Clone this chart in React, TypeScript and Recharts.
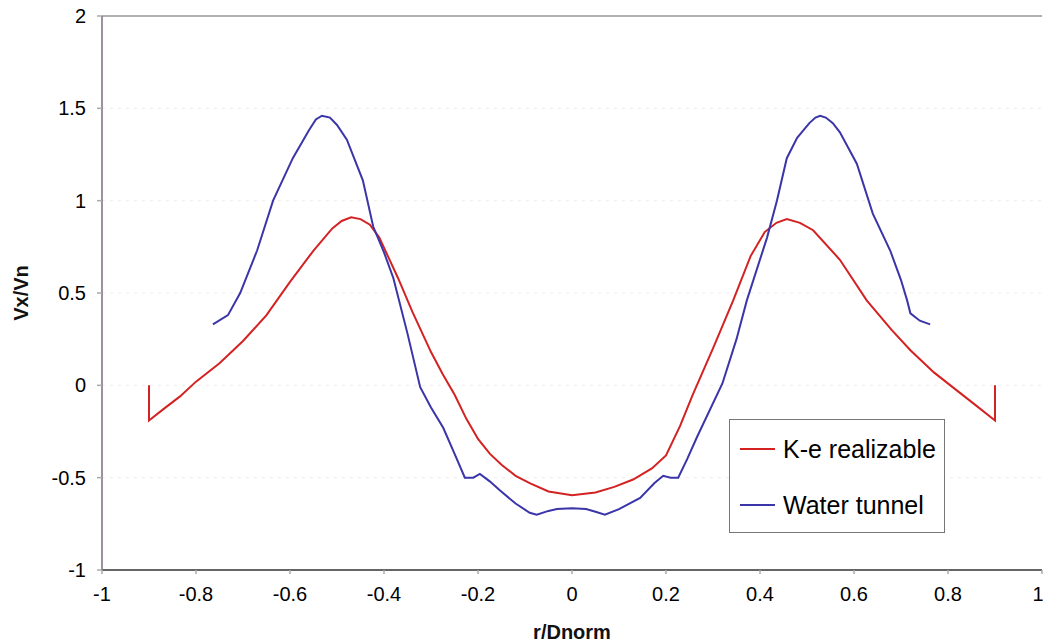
import { CartesianGrid, Line, LineChart, ReferenceLine, XAxis, YAxis } from "recharts";

const xTicks = [-1, -0.8, -0.6, -0.4, -0.2, 0, 0.2, 0.4, 0.6, 0.8, 1];
const yTicks = [-1, -0.5, 0, 0.5, 1, 1.5, 2];

// K-e realizable (CFD)
const keX = [
  -0.9, -0.9, -0.87, -0.834, -0.8, -0.75, -0.7, -0.65, -0.6, -0.55, -0.51, -0.49, -0.47, -0.45, -0.43, -0.41,
  -0.39, -0.37, -0.34, -0.3, -0.275, -0.25, -0.225, -0.2, -0.175, -0.15, -0.12, -0.09, -0.05, 0, 0.05, 0.09,
  0.13, 0.17, 0.2, 0.23, 0.257, 0.3, 0.343, 0.38, 0.41, 0.435, 0.457, 0.485, 0.513, 0.57, 0.627, 0.68, 0.72,
  0.77, 0.82, 0.86, 0.9, 0.9,
];
const keY = [
  0, -0.19, -0.13, -0.06, 0.02, 0.12, 0.24, 0.38, 0.56, 0.73, 0.85, 0.89, 0.91, 0.9, 0.87, 0.8,
  0.69, 0.58, 0.4, 0.18, 0.06, -0.05, -0.18, -0.29, -0.37, -0.43, -0.49, -0.53, -0.575, -0.595, -0.58, -0.55,
  -0.51, -0.45, -0.38, -0.22, -0.05, 0.2, 0.46, 0.7, 0.83, 0.88, 0.9, 0.88, 0.84, 0.68, 0.46, 0.3, 0.19,
  0.07, -0.03, -0.11, -0.19, 0,
];

// Water tunnel (measured)
const wtX = [
  -0.764, -0.732, -0.706, -0.67, -0.636, -0.594, -0.56, -0.545, -0.532, -0.515, -0.5, -0.479, -0.445, -0.423,
  -0.4, -0.38, -0.35, -0.323, -0.3, -0.274, -0.25, -0.228, -0.21, -0.196, -0.175, -0.153, -0.12, -0.09,
  -0.075, -0.05, -0.032, 0, 0.03, 0.05, 0.07, 0.1, 0.145, 0.175, 0.194, 0.21, 0.226, 0.245, 0.266, 0.32,
  0.35, 0.372, 0.415, 0.436, 0.457, 0.479, 0.505, 0.518, 0.528, 0.54, 0.555, 0.57, 0.606, 0.64, 0.677, 0.7,
  0.713, 0.72, 0.74, 0.762,
];
const wtY = [
  0.33, 0.38, 0.5, 0.73, 1.0, 1.23, 1.38, 1.44, 1.46, 1.45, 1.41, 1.33, 1.11, 0.86,
  0.72, 0.58, 0.28, -0.01, -0.12, -0.23, -0.37, -0.5, -0.5, -0.48, -0.52, -0.57, -0.64, -0.69,
  -0.7, -0.68, -0.67, -0.665, -0.67, -0.685, -0.7, -0.67, -0.61, -0.53, -0.49, -0.5, -0.5, -0.4, -0.28, 0.01,
  0.25, 0.46, 0.8, 1.0, 1.23, 1.34, 1.42, 1.45, 1.46, 1.45, 1.42, 1.37, 1.2, 0.93, 0.73, 0.57,
  0.46, 0.39, 0.35, 0.33,
];

const keData = keX.map((x, i) => ({ x, y: keY[i] }));
const wtData = wtX.map((x, i) => ({ x, y: wtY[i] }));

const FONT = "'Liberation Sans', Arial, sans-serif";
const RED = "#d42222";
const BLUE = "#3a35a8";

function LegendBox() {
  const row = (color: string, label: string) => (
    <div style={{ display: "flex", alignItems: "center", height: 28 }}>
      <div style={{ width: 35, height: 2, background: color, marginRight: 8 }} />
      <span style={{ fontSize: 25, color: "#000" }}>{label}</span>
    </div>
  );
  return (
    <div
      style={{
        position: "absolute",
        left: 729,
        top: 419,
        boxSizing: "border-box",
        width: 216,
        height: 114,
        border: "1.5px solid #777",
        background: "#fff",
        padding: "15px 0 0 10px",
        fontFamily: FONT,
        display: "flex",
        flexDirection: "column",
        gap: 28,
      }}
    >
      {row(RED, "K-e realizable")}
      {row(BLUE, "Water tunnel")}
    </div>
  );
}

export default function App() {
  return (
    <div style={{ position: "absolute", left: 0, top: 0, width: 1043, height: 643, background: "#fff" }}>
      <LineChart width={1043} height={643} margin={{ top: 16, right: 1, bottom: 0, left: 0 }} style={{ fontFamily: FONT }}>
        <CartesianGrid vertical={false} stroke="#ededed" strokeDasharray="3 5" />
        <ReferenceLine y={2} stroke="#999" strokeWidth={1.5} />
        <XAxis
          type="number"
          dataKey="x"
          domain={[-1, 1]}
          ticks={xTicks}
          tickFormatter={(v: number) => String(v)}
          height={73}
          tickSize={4}
          tickMargin={13}
          stroke="#333"
          strokeWidth={1.5}
          tickLine={{ stroke: "#aaa" }}
          tick={{ fill: "#000", fontSize: 20 }}
          allowDuplicatedCategory
          label={{ value: "r/Dnorm", position: "insideBottom", offset: 4, fill: "#111", fontSize: 20, fontWeight: "bold" }}
        />
        <YAxis
          type="number"
          dataKey="y"
          domain={[-1, 2]}
          ticks={yTicks}
          width={102}
          tickSize={5}
          tickMargin={11}
          stroke="#7b6b86"
          strokeWidth={1.5}
          tickLine={{ stroke: "#aaa" }}
          tick={{ fill: "#000", fontSize: 20 }}
          label={{
            value: "Vx/Vn",
            angle: -90,
            position: "insideLeft",
            offset: 21,
            fill: "#111",
            fontSize: 20,
            fontWeight: "bold",
            textAnchor: "middle",
          }}
        />
        <Line data={keData} dataKey="y" type="linear" stroke={RED} strokeWidth={2} dot={false} isAnimationActive={false} />
        <Line data={wtData} dataKey="y" type="linear" stroke={BLUE} strokeWidth={2} dot={false} isAnimationActive={false} />
      </LineChart>
      <LegendBox />
    </div>
  );
}
